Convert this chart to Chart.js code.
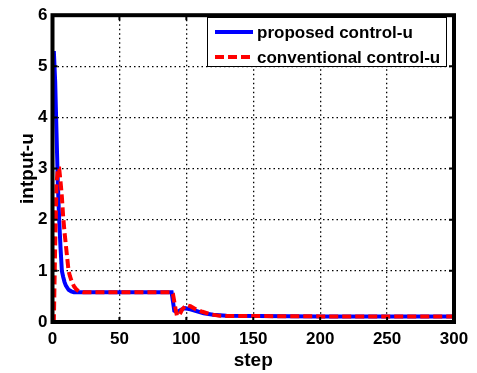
<!DOCTYPE html>
<html>
<head>
<meta charset="utf-8">
<script src="https://cdn.jsdelivr.net/npm/chart.js@4"></script>
<style>
    html, body { margin: 0; padding: 0; background: #fff; }
    #wrap { width: 477px; height: 373px; }
</style>
</head>
<body>
<div id="wrap"><canvas id="grafico"></canvas></div>
<script>
// =========================
// DATOS
// =========================

const xTicks = [0, 50, 100, 150, 200, 250, 300];
const yTicks = [0, 1, 2, 3, 4, 5, 6];

const proposedLabel = "proposed control-u";
const proposedSteps = [1, 2, 3, 4, 5, 6, 7, 8, 9, 10, 12, 14, 16, 40, 70, 89, 90, 91, 93, 96, 99, 103, 108, 113, 120, 130, 200, 300];
const proposedValues = [5.3, 4.7, 3.7, 2.7, 2.0, 1.45, 1.0, 0.88, 0.78, 0.71, 0.63, 0.6, 0.58, 0.58, 0.58, 0.58, 0.4, 0.22, 0.19, 0.24, 0.27, 0.25, 0.21, 0.17, 0.14, 0.12, 0.11, 0.11];

const conventionalLabel = "conventional control-u";
const conventionalSteps = [0, 1, 2, 3, 4, 5, 6, 7, 8, 9, 10, 11, 12, 13, 14, 16, 18, 20, 23, 50, 70, 89, 90, 92, 93, 95, 97, 100, 103, 107, 112, 118, 125, 200, 300];
const conventionalValues = [0, 0, 1.5, 2.7, 3.0, 3.0, 2.75, 2.45, 2.05, 1.75, 1.5, 1.25, 1.0, 0.9, 0.82, 0.7, 0.63, 0.6, 0.58, 0.58, 0.58, 0.58, 0.55, 0.25, 0.12, 0.15, 0.25, 0.33, 0.31, 0.25, 0.2, 0.15, 0.12, 0.11, 0.11];

const toPoints = (xs, ys) => xs.map((x, i) => ({ x: x, y: ys[i] }));

const FONT = "'Liberation Sans', Arial, sans-serif";

// =========================
// PLUGINS (marco, ticks internos, leyenda)
// =========================

const marco = {
    id: "marco",
    afterDatasetsDraw(chart) {
        const { ctx, chartArea: a, scales } = chart;
        ctx.save();
        ctx.strokeStyle = "#000";
        ctx.lineWidth = 2;
        ctx.setLineDash([]);
        ctx.beginPath();
        xTicks.forEach(v => {
            const px = scales.x.getPixelForValue(v);
            ctx.moveTo(px, a.bottom); ctx.lineTo(px, a.bottom - 5);
            ctx.moveTo(px, a.top); ctx.lineTo(px, a.top + 5);
        });
        yTicks.forEach(v => {
            const py = scales.y.getPixelForValue(v);
            ctx.moveTo(a.left, py); ctx.lineTo(a.left + 5, py);
            ctx.moveTo(a.right, py); ctx.lineTo(a.right - 5, py);
        });
        ctx.stroke();
        ctx.lineWidth = 4;
        ctx.strokeRect(a.left, a.top, a.right - a.left, a.bottom - a.top);
        ctx.restore();
    }
};

const leyenda = {
    id: "leyenda",
    afterDraw(chart) {
        const { ctx } = chart;
        const items = chart.data.datasets.slice().sort((a, b) => b.order - a.order);
        ctx.save();
        ctx.fillStyle = "#fff";
        ctx.fillRect(207, 17, 239, 49);
        ctx.strokeStyle = "#000";
        ctx.lineWidth = 1;
        ctx.strokeRect(207.5, 17.5, 239, 49);
        items.forEach((ds, i) => {
            const y = 32 + i * 25;
            ctx.strokeStyle = ds.borderColor;
            ctx.lineWidth = 4;
            ctx.setLineDash(ds.borderDash || []);
            ctx.beginPath();
            ctx.moveTo(215, y);
            ctx.lineTo(253, y);
            ctx.stroke();
            ctx.setLineDash([]);
            ctx.fillStyle = "#000";
            ctx.font = "bold 17px " + FONT;
            ctx.textBaseline = "middle";
            ctx.textAlign = "left";
            ctx.fillText(ds.label, 257, y + 1);
        });
        ctx.restore();
    }
};

// =========================
// GRÁFICO
// =========================

new Chart(document.getElementById("grafico"), {

    type: "line",

    data: {
        datasets: [{
            label: proposedLabel,
            data: toPoints(proposedSteps, proposedValues),
            borderColor: "#0000FF",
            borderWidth: 4,
            pointRadius: 0,
            tension: 0,
            order: 2
        }, {
            label: conventionalLabel,
            data: toPoints(conventionalSteps, conventionalValues),
            borderColor: "#FF0000",
            borderWidth: 4,
            borderDash: [9, 4],
            pointRadius: 0,
            tension: 0,
            order: 1
        }]
    },

    options: {
        responsive: true,
        maintainAspectRatio: false,
        animation: false,
        layout: {
            padding: { top: 12, right: 23, left: 0, bottom: 0 }
        },
        plugins: {
            legend: { display: false },
            tooltip: { enabled: false }
        },
        scales: {
            x: {
                type: "linear",
                min: 0,
                max: 300,
                afterFit: scale => { scale.height = 51; },
                afterBuildTicks: scale => { scale.ticks = xTicks.map(v => ({ value: v })); },
                ticks: {
                    color: "#000",
                    padding: 7,
                    maxRotation: 0,
                    font: { family: FONT, size: 17, weight: "bold" }
                },
                grid: {
                    color: "#000",
                    lineWidth: 1.3,
                    drawTicks: false
                },
                border: { display: false, dash: [1.5, 3] },
                title: {
                    display: true,
                    text: "step",
                    color: "#000",
                    padding: { top: 0, bottom: 1 },
                    font: { family: FONT, size: 19, weight: "bold" }
                }
            },
            y: {
                min: 0,
                max: 6,
                afterFit: scale => { scale.width = 52.5; },
                afterBuildTicks: scale => { scale.ticks = yTicks.map(v => ({ value: v })); },
                ticks: {
                    color: "#000",
                    padding: 5,
                    font: { family: FONT, size: 17, weight: "bold" }
                },
                grid: {
                    color: "#000",
                    lineWidth: 1.3,
                    drawTicks: false
                },
                border: { display: false, dash: [1.5, 3] },
                title: {
                    display: true,
                    text: "intput-u",
                    color: "#000",
                    padding: { top: 16, bottom: 0 },
                    font: { family: FONT, size: 19, weight: "bold" }
                }
            }
        }
    },

    plugins: [marco, leyenda]

});
</script>
</body>
</html>
